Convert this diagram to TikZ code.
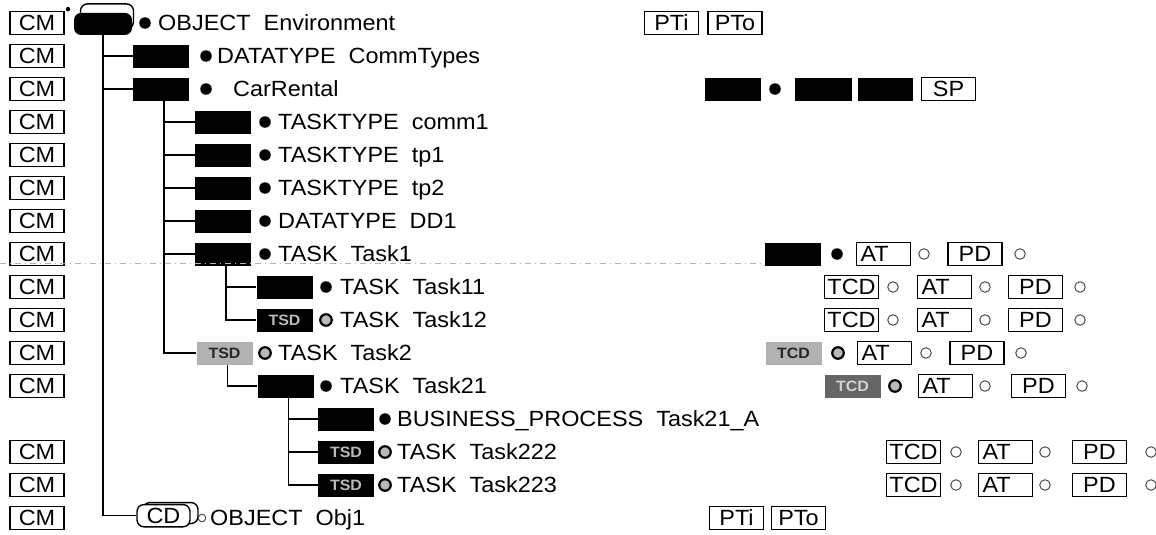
\documentclass[tikz,border=0pt]{standalone}
\usepackage{fontspec}
\setmainfont{Liberation Sans}[FakeStretch=1.065]
\usetikzlibrary{positioning}

\begin{document}
\begin{tikzpicture}[
  x=1pt, y=-33pt,
  font=\fontsize{22}{25}\selectfont,
  tree/.style={line width=1.6pt},
  cmbox/.style={draw, line width=1.6pt, minimum width=54pt, minimum height=23pt, inner sep=0pt},
  tag/.style={cmbox},
  attag/.style={cmbox, text width=46pt, align=left},
  icon/.style={fill=black, minimum width=56pt, minimum height=23pt, inner sep=0pt, font=\bfseries\fontsize{15}{15}\selectfont, text=gray!55},
  greyicon/.style={icon, fill=gray!60, text=black!85},
  fulldot/.style={circle, fill=black, minimum size=11.5pt, inner sep=0pt},
  halfdot/.style={circle, fill=gray!55, draw=black, line width=2.2pt, minimum size=11.5pt, inner sep=0pt},
  opendot/.style={circle, draw=black!70, line width=1pt, minimum size=10.5pt, inner sep=0pt},
  lbl/.style={anchor=base west, inner sep=0pt, yshift=-7.8pt}
]
\useasboundingbox (0,-0.697) rectangle (1156,15.485);

% scan line through the Task1 row
\coordinate (scanstart) at (0,7.27);

% CM column
\foreach \r in {0,...,11,13,14,15}
  \node[cmbox] (cm\r) at (37,\r) {CM};

% root object
\node[circle, fill=black, minimum size=4.5pt, inner sep=0pt] (envmark) at (68,-0.42) {};
\node[draw, rounded corners=7pt, line width=1.4pt, minimum width=53pt, minimum height=25pt] (envback) at (107,-0.2) {};
\node[icon, rounded corners=7pt, minimum width=58pt, minimum height=22pt] (env) at (103,0.03) {};
\node[fulldot] (d0) at (145,0) {};
\node[lbl] (t0) at (158,0) {OBJECT~~Environment};

% level 1
\node[icon] (dt1) at (161,1) {};
\node[fulldot] (d1) at (206,1) {};
\node[lbl] (t1) at (217,1) {DATATYPE~~CommTypes};
\node[icon] (car) at (161,2) {};
\node[fulldot] (d2) at (206,2) {};
\node[lbl] (t2) at (233,2) {CarRental};

% level 2
\node[icon] (tt1) at (223,3) {};
\node[fulldot] (d3) at (265,3) {};
\node[lbl] (t3) at (278,3) {TASKTYPE~~comm1};
\node[icon] (tt2) at (223,4) {};
\node[fulldot] (d4) at (265,4) {};
\node[lbl] (t4) at (278,4) {TASKTYPE~~tp1};
\node[icon] (tt3) at (223,5) {};
\node[fulldot] (d5) at (265,5) {};
\node[lbl] (t5) at (278,5) {TASKTYPE~~tp2};
\node[icon] (dd1) at (223,6) {};
\node[fulldot] (d6) at (265,6) {};
\node[lbl] (t6) at (278,6) {DATATYPE~~DD1};
\node[icon] (task1) at (223,7) {};
\node[fulldot] (d7) at (265,7) {};
\node[lbl] (t7) at (278,7) {TASK~~Task1};
\node[greyicon] (task2) at (224.5,10) {TSD};
\node[halfdot] (d10) at (265,10) {};
\node[lbl] (t10) at (278,10) {TASK~~Task2};

% level 3
\node[icon] (task11) at (284.5,8) {};
\node[fulldot] (d8) at (326,8) {};
\node[lbl] (t8) at (340,8) {TASK~~Task11};
\node[icon] (task12) at (284.5,9) {TSD};
\node[halfdot] (d9) at (326,9) {};
\node[lbl] (t9) at (340,9) {TASK~~Task12};
\node[icon] (task21) at (285.5,11) {};
\node[fulldot] (d11) at (326,11) {};
\node[lbl] (t11) at (340,11) {TASK~~Task21};

% level 4
\node[icon] (bp) at (346,12) {};
\node[fulldot] (d12) at (385,12) {};
\node[lbl] (t12) at (397,12) {BUSINESS\_PROCESS~~Task21\_A};
\node[icon] (task222) at (346,13) {TSD};
\node[halfdot] (d13) at (385,13) {};
\node[lbl] (t13) at (397,13) {TASK~~Task222};
\node[icon] (task223) at (346,14) {TSD};
\node[halfdot] (d14) at (385,14) {};
\node[lbl] (t14) at (397,14) {TASK~~Task223};

% second object
\node[draw, rounded corners=7pt, line width=1.4pt, minimum width=55pt, minimum height=21pt] (cdback) at (170.5,14.85) {};
\node[draw, fill=white, rounded corners=7pt, line width=1.4pt, minimum width=53pt, minimum height=22pt] (cd) at (163.5,14.93) {CD};
\node[opendot, minimum size=7.5pt] (d15) at (202,15) {};
\node[lbl] (t15) at (210,15) {OBJECT~~Obj1};

% tree lines
\draw[tree] (env.south) |- (cd.west);
\draw[tree] (env.south |- dt1) -- (dt1.west);
\draw[tree] (env.south |- car) -- (car.west);
\coordinate (b1) at ([xshift=3pt]car.south);
\draw[tree] (b1) |- (task2.west);
\foreach \n in {tt1,tt2,tt3,dd1,task1}
  \draw[tree] (b1 |- \n) -- (\n.west);
\coordinate (b2) at ([xshift=3pt]task1.south);
\draw[tree] (b2) |- (task12.west);
\draw[tree] (b2 |- task11) -- (task11.west);
\coordinate (b3) at ([xshift=3pt]task2.south);
\draw[tree] (b3) |- (task21.west);
\coordinate (b4) at ([xshift=3pt]task21.south);
\draw[tree] (b4) |- (task223.west);
\draw[tree] (b4 |- bp) -- (bp.west);
\draw[tree] (b4 |- task222) -- (task222.west);

% right: ports
\node[tag] (pti0) at (671.5,0) {PTi};
\node[tag] (pto0) at (735,0) {PTo};
\node[tag] (pti15) at (736.5,15) {PTi};
\node[tag] (pto15) at (798.5,15) {PTo};

% right: CarRental row
\node[icon] (carA) at (733,2) {};
\node[fulldot] (carB) at (775,2) {};
\node[icon, minimum width=57pt] (carC) at (823,2) {};
\node[icon, minimum width=55pt] (carD) at (885.5,2) {};
\node[tag] (sp) at (948.5,2) {SP};

% right: Task1
\node[icon] (r7a) at (792.5,7) {};
\node[fulldot] (r7b) at (837,7) {};
\node[attag] (at7) at (883.5,7) {AT};
\node[opendot] (r7c) at (924,7) {};
\node[tag] (pd7) at (975,7) {PD};
\node[opendot] (r7d) at (1020,7) {};
\draw[gray!60, line width=0.8pt, dash pattern=on 6pt off 4pt on 1pt off 4pt] (scanstart) -- (scanstart -| r7a.west);

% right: Task11, Task12
\foreach \r in {8,9} {
  \node[tag] (tcd\r) at (851.5,\r) {TCD};
  \node[opendot] (ra\r) at (893,\r) {};
  \node[attag] (at\r) at (944.5,\r) {AT};
  \node[opendot] (rb\r) at (985,\r) {};
  \node[tag] (pd\r) at (1035.5,\r) {PD};
  \node[opendot] (rc\r) at (1080,\r) {};
}

% right: Task2, Task21
\node[greyicon] (tcd10) at (793.5,10) {TCD};
\node[halfdot] (ra10) at (838,10) {};
\node[attag] (at10) at (884.5,10) {AT};
\node[opendot] (rb10) at (926,10) {};
\node[tag] (pd10) at (977,10) {PD};
\node[opendot] (rc10) at (1021,10) {};
\node[greyicon, fill=black!60, text=gray!35] (tcd11) at (852.5,11) {TCD};
\node[halfdot] (ra11) at (895,11) {};
\node[attag] (at11) at (945.5,11) {AT};
\node[opendot] (rb11) at (985,11) {};
\node[tag] (pd11) at (1038.5,11) {PD};
\node[opendot] (rc11) at (1082,11) {};

% right: Task222, Task223
\foreach \r in {13,14} {
  \node[tag] (tcd\r) at (913.5,\r) {TCD};
  \node[opendot] (ra\r) at (956,\r) {};
  \node[attag] (at\r) at (1005.5,\r) {AT};
  \node[opendot] (rb\r) at (1045,\r) {};
  \node[tag] (pd\r) at (1099.5,\r) {PD};
  \node[opendot] (rc\r) at (1151,\r) {};
}

\end{tikzpicture}
\end{document}
